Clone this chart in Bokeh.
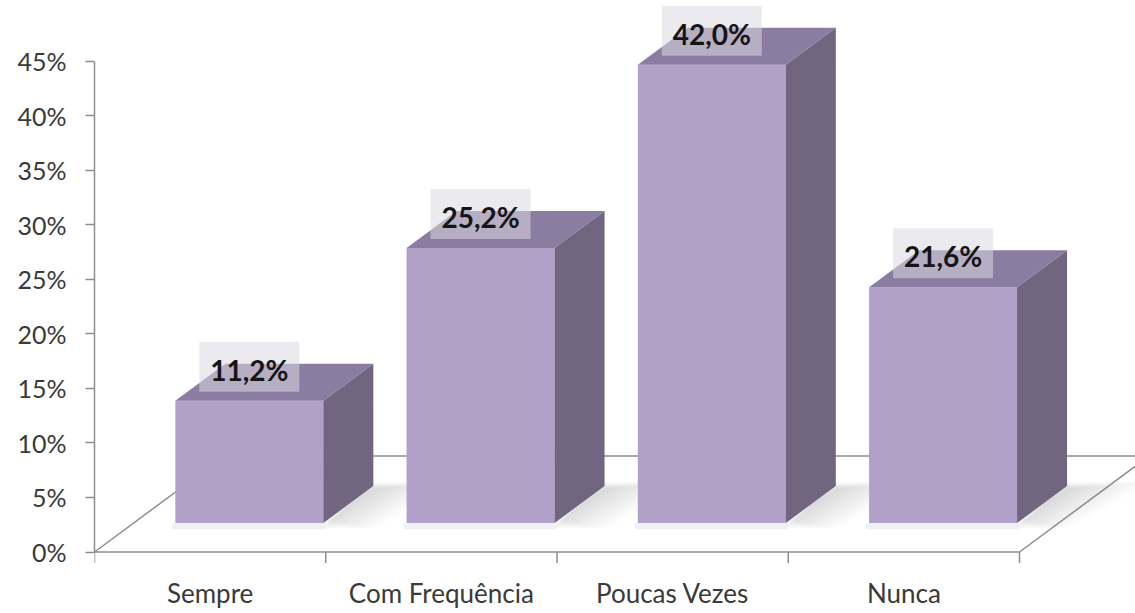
from bokeh.plotting import figure
from bokeh.models import Range1d, FixedTicker
from bokeh.core.properties import value
from bokeh.embed import file_html
from bokeh.resources import INLINE

# Survey answers and their shares (%)
categories = ["Sempre", "Com Frequência", "Poucas Vezes", "Nunca"]
percentages = [11.2, 25.2, 42.0, 21.6]

# Value axis ticks
tick_values = [0, 5, 10, 15, 20, 25, 30, 35, 40, 45]
tick_labels = ["0%", "5%", "10%", "15%", "20%", "25%", "30%", "35%", "40%", "45%"]

# ---- layout (pixel geometry of the pseudo-3D scene) ----
W, H = 1135, 613
AXIS_PX = 94          # x pixel of the value axis / first category slot edge
SLOT_PX = 231.25      # width of one category slot in pixels
ZERO_PX = 551.5       # y pixel of 0 %
PCT_PX = 10.911       # pixels per 1 %

def dx(px):
    return px / SLOT_PX

def dy(px):
    return px / PCT_PX

X_END = dx(W - AXIS_PX)
Y_END = dy(ZERO_PX)
Y_START = -dy(H - ZERO_PX)

# depth geometry: floor depth, where the bar front sits, and bar depth
DEPTH_RATIO = 50.0 / 37.0
FLOOR_T = 96.0
BAR_FRONT_T = 29.0
BAR_DEPTH_T = 37.0
BAR_W = 0.64

FRONT_C = "#B1A1C8"
SIDE_C = "#716580"
TOP_C = "#8A7DA1"
LINE_C = "#8E8E8E"
TEXT_C = "#3a3a3a"

p = figure(width=W, height=H, x_range=Range1d(0, X_END), y_range=Range1d(Y_START, Y_END),
           output_backend="svg", toolbar_location=None, x_axis_location=None,
           min_border_left=AXIS_PX, min_border_right=0, min_border_top=0, min_border_bottom=0)
p.outline_line_color = None
p.grid.visible = False
p.background_fill_color = "white"
p.border_fill_color = "white"

# value axis
ax = p.yaxis[0]
ax.ticker = FixedTicker(ticks=tick_values)
ax.major_label_overrides = {v: t for v, t in zip(tick_values, tick_labels)}
ax.bounds = (0, 45)
ax.axis_line_color = LINE_C
ax.axis_line_width = 1.5
ax.major_tick_line_color = LINE_C
ax.major_tick_line_width = 1.5
ax.major_tick_out = 9
ax.major_tick_in = 0
ax.minor_tick_line_color = None
ax.major_label_standoff = 19
ax.major_label_text_font = "Lato"
ax.major_label_text_font_size = "25px"
ax.major_label_text_color = TEXT_C

# floor
fdx, fdy = dx(FLOOR_T * DEPTH_RATIO), dy(FLOOR_T)
n = len(categories)
p.patch([0, n, n + fdx, fdx], [0, 0, fdy, fdy], fill_color="white",
        line_color=LINE_C, line_width=1.5)

# category separator ticks below the floor edge
p.segment(x0=list(range(n + 1)), y0=[0] * (n + 1), x1=list(range(n + 1)),
          y1=[-dy(11)] * (n + 1), line_color=LINE_C, line_width=1.5)

sxf, syf = dx(BAR_FRONT_T * DEPTH_RATIO), dy(BAR_FRONT_T)
ddx, ddy = dx(BAR_DEPTH_T * DEPTH_RATIO), dy(BAR_DEPTH_T)
gap = (1 - BAR_W) / 2
lefts = [i + gap + sxf for i in range(n)]
rights = [i + 1 - gap + sxf for i in range(n)]
tops = [syf + v for v in percentages]

# soft floor shadows to the right of each bar (layered, fading outwards)
for k in range(1, 13):
    w = dx(7 * k)
    lo = syf + dy(4) - dy(0.8 * k)
    hi = syf + ddy - dy(3) + dy(0.6 * k)
    sx, sy = [], []
    for r in rights:
        sx.append([r, r + ddx, r + ddx + w, r + w * 0.6])
        sy.append([lo, hi, hi, lo])
    p.patches(sx, sy, fill_color="#8a8a8a", fill_alpha=0.028, line_color=None)

# faint shade along the bottom of each front face
p.quad(left=[l - dx(3) for l in lefts], right=[r + dx(2) for r in rights],
       bottom=[syf - dy(6)] * n, top=[syf] * n,
       fill_color="#c9c2d4", fill_alpha=0.25, line_color=None)

# bar faces
p.quad(left=lefts, right=rights, bottom=[syf] * n, top=tops,
       fill_color=FRONT_C, line_color=None)
side_x = [[r, r + ddx, r + ddx, r] for r in rights]
side_y = [[syf, syf + ddy, t + ddy, t] for t in tops]
p.patches(side_x, side_y, fill_color=SIDE_C, line_color=None)
top_x = [[l, r, r + ddx, l + ddx] for l, r in zip(lefts, rights)]
top_y = [[t, t, t + ddy, t + ddy] for t in tops]
p.patches(top_x, top_y, fill_color=TOP_C, line_color=None)

# value labels with translucent boxes
centers = [(l + r) / 2 for l, r in zip(lefts, rights)]
label_y = [t + dy(34) for t in tops]
p.rect(x=centers, y=label_y, width=100, height=50, width_units="screen",
       height_units="screen", fill_color="#DAD8E0", fill_alpha=0.55, line_color=None)
value_text = [f"{v:.1f}%".replace(".", ",") for v in percentages]
p.text(x=centers, y=[y - dy(3) for y in label_y], text=value_text, text_align="center",
       text_baseline="middle", text_font=value("Lato"), text_font_style="bold",
       text_font_size="28px", text_color="#151515")

# category labels
p.text(x=[i + 0.5 for i in range(n)], y=[-dy(592 - ZERO_PX)] * n, text=categories,
       text_align="center", text_baseline="alphabetic", text_font=value("Lato"),
       text_font_size="26px", text_color=TEXT_C)

open("out.html", "w").write(file_html(p, INLINE))
